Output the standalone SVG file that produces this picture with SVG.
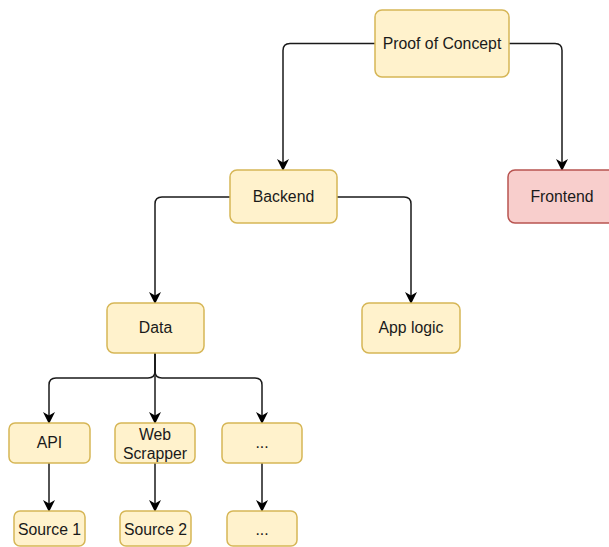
<svg xmlns="http://www.w3.org/2000/svg" width="609" height="547" viewBox="0 0 609 547">
<style>
.n{fill:#fff2cc;stroke:#d6b656;stroke-width:1.5}
.r{fill:#f8cecc;stroke:#b85450;stroke-width:1.5}
.t{font-family:"Liberation Sans",Arial,sans-serif;font-size:15.8px;fill:#1a1a1a;text-anchor:middle}
.c{fill:none;stroke:#1a1a1a;stroke-width:1.5;marker-end:url(#a)}
</style>
<defs>
<marker id="a" markerUnits="userSpaceOnUse" markerWidth="13" markerHeight="13" refX="11" refY="6" orient="auto" viewBox="0 0 13 12">
<path d="M0,0 L12,6 L0,12 L3.5,6 Z" fill="#000"/>
</marker>
</defs>
<rect width="609" height="547" fill="#fff"/>
<g id="connectors">
<path class="c" d="M375,43.5 H290 Q283,43.5 283,50.5 V170"/>
<path class="c" d="M509,43.5 H555 Q562,43.5 562,50.5 V170"/>
<path class="c" d="M230,197 H162 Q155,197 155,204 V303"/>
<path class="c" d="M337,197 H404 Q411,197 411,204 V303"/>
<path class="c" d="M155,353 V371 Q155,378 148,378 H56 Q49,378 49,385 V423"/>
<path class="c" d="M155,353 V423"/>
<path class="c" d="M155,353 V371 Q155,378 162,378 H255 Q262,378 262,385 V423"/>
<path class="c" d="M49,463 V511"/>
<path class="c" d="M155,463 V511"/>
<path class="c" d="M262,463 V511"/>
</g>
<g id="poc"><rect class="n" x="375" y="10" width="134" height="67" rx="7"/><text class="t" x="442" y="49">Proof of Concept</text></g>
<g id="backend"><rect class="n" x="230" y="170" width="107" height="53" rx="7"/><text class="t" x="283.5" y="202">Backend</text></g>
<g id="frontend"><rect class="r" x="508" y="170" width="108" height="53" rx="7"/><text class="t" x="562" y="202">Frontend</text></g>
<g id="data"><rect class="n" x="107" y="303" width="97" height="50" rx="7"/><text class="t" x="155.5" y="333">Data</text></g>
<g id="applogic"><rect class="n" x="362" y="303" width="98" height="50" rx="7"/><text class="t" x="411" y="333">App logic</text></g>
<g id="api"><rect class="n" x="9" y="423" width="81" height="40" rx="6"/><text class="t" x="49.5" y="448">API</text></g>
<g id="webscrapper"><rect class="n" x="115" y="423" width="80" height="40" rx="6"/><text class="t" x="155" y="440">Web</text><text class="t" x="155" y="459">Scrapper</text></g>
<g id="more1"><rect class="n" x="222" y="423" width="80" height="40" rx="6"/><text class="t" x="262" y="448">...</text></g>
<g id="source1"><rect class="n" x="14" y="511" width="71" height="35" rx="6"/><text class="t" x="49.5" y="535">Source 1</text></g>
<g id="source2"><rect class="n" x="120" y="511" width="71" height="35" rx="6"/><text class="t" x="155.5" y="535">Source 2</text></g>
<g id="more2"><rect class="n" x="227" y="511" width="70" height="35" rx="6"/><text class="t" x="262" y="535">...</text></g>
</svg>
